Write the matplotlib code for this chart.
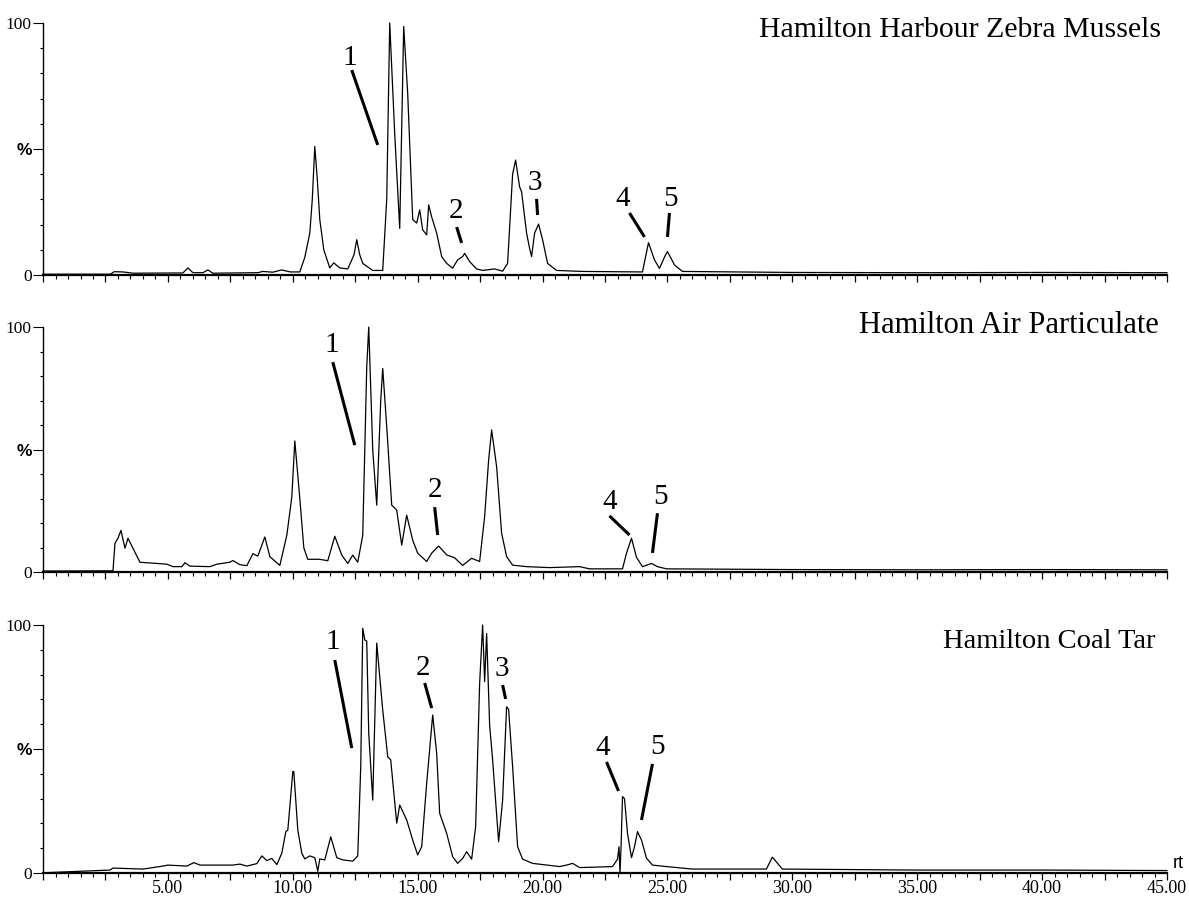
import numpy as np
import matplotlib
matplotlib.use('Agg')
import matplotlib.pyplot as plt

# retention time (min) and relative abundance (%)
mussel_rt = [0.0, 2.7, 2.85, 3.2, 3.6, 5.6, 5.8, 6.0, 6.4, 6.6, 6.8, 8.6, 8.8, 9.2, 9.55, 9.9,
             10.28, 10.48, 10.68, 10.78, 10.88, 10.98, 11.08, 11.24, 11.48, 11.64, 11.88, 12.2,
             12.45, 12.56, 12.68, 12.8, 13.2, 13.6, 13.76, 13.88, 14.08, 14.28, 14.44, 14.6,
             14.8, 14.96, 15.08, 15.2, 15.36, 15.44, 15.56, 15.76, 15.96, 16.16, 16.4, 16.6,
             16.8, 16.88, 17.08, 17.36, 17.6, 18.08, 18.4, 18.6, 18.8, 18.92, 19.08, 19.16,
             19.36, 19.48, 19.56, 19.68, 19.84, 20.0, 20.2, 20.56, 21.6, 24.0, 24.14, 24.24,
             24.48, 24.68, 24.9, 25.0, 25.28, 25.6, 30.0, 35.0, 40.0, 45.0]
mussel_pct = [0.3, 0.3, 1.3, 1.2, 0.7, 0.8, 2.8, 0.9, 0.9, 2.0, 0.7, 0.9, 1.4, 1.1, 2.0, 1.2,
              1.2, 7.0, 16.6, 30.0, 51.0, 38.0, 22.0, 10.0, 2.8, 4.8, 2.8, 2.4,
              8.0, 14.0, 8.0, 4.6, 1.8, 1.8, 30.0, 100.0, 56.0, 18.5, 98.6, 72.0,
              22.0, 20.6, 25.8, 17.9, 15.9, 27.8, 23.0, 16.6, 7.3, 4.6, 2.7, 6.0,
              7.3, 8.6, 5.3, 2.4, 1.8, 2.4, 1.5, 4.6, 40.0, 45.6, 35.0, 33.0,
              16.6, 10.6, 7.3, 16.6, 20.2, 14.0, 4.6, 1.8, 1.4, 1.2, 8.0, 12.8,
              6.0, 2.6, 7.5, 9.3, 4.0, 1.4, 1.0, 0.9, 1.0, 0.9]

air_rt = [0.0, 2.8, 2.88, 3.0, 3.12, 3.28, 3.4, 3.6, 3.88, 4.96, 5.2, 5.56, 5.68, 5.88, 6.68,
          6.96, 7.48, 7.6, 7.88, 8.16, 8.4, 8.6, 8.88, 9.08, 9.48, 9.76, 9.96, 10.08, 10.28,
          10.44, 10.6, 11.08, 11.4, 11.68, 11.96, 12.2, 12.4, 12.6, 12.8, 12.96, 13.04, 13.2,
          13.36, 13.52, 13.6, 13.76, 13.96, 14.16, 14.36, 14.56, 14.8, 15.0, 15.36, 15.56,
          15.84, 16.16, 16.48, 16.8, 17.16, 17.48, 17.68, 17.84, 17.96, 18.16, 18.36, 18.56,
          18.8, 19.36, 20.28, 21.48, 21.88, 23.2, 23.36, 23.56, 23.76, 24.0, 24.36, 24.6,
          24.96, 30.0, 35.0, 40.0, 45.0]
air_pct = [0.4, 0.5, 11.7, 13.8, 17.0, 9.7, 13.8, 9.7, 4.0, 3.2, 2.2, 2.2, 3.8, 2.4, 2.2,
           3.2, 4.0, 4.7, 3.0, 2.6, 7.5, 6.5, 14.3, 6.3, 2.7, 15.0, 30.6, 53.5, 30.0,
           9.9, 5.2, 5.2, 4.6, 14.6, 6.9, 3.5, 6.9, 4.0, 15.0, 83.8, 100.0, 49.8,
           27.3, 70.0, 83.1, 59.3, 27.3, 25.3, 11.0, 23.2, 13.0, 7.7, 4.3, 7.7,
           10.6, 7.0, 5.8, 2.7, 5.6, 4.3, 22.6, 45.7, 58.0, 43.0, 15.8, 6.3,
           2.8, 2.2, 1.8, 2.2, 1.3, 1.3, 7.7, 13.8, 6.0, 2.2, 3.5, 2.2,
           1.3, 1.0, 0.9, 1.0, 0.9]

tar_rt = [0.0, 2.68, 2.8, 4.0, 4.8, 5.0, 5.76, 6.04, 6.28, 7.6, 7.88, 8.16, 8.56, 8.76, 8.96,
          9.16, 9.36, 9.56, 9.72, 9.8, 10.0, 10.04, 10.2, 10.36, 10.48, 10.68, 10.88, 11.0,
          11.08, 11.28, 11.52, 11.76, 12.0, 12.4, 12.6, 12.72, 12.8, 12.88, 12.96, 13.04,
          13.2, 13.36, 13.6, 13.8, 13.92, 14.16, 14.28, 14.56, 14.8, 15.0, 15.16, 15.36,
          15.6, 15.76, 15.88, 16.16, 16.4, 16.6, 16.8, 16.96, 17.16, 17.32, 17.48, 17.6,
          17.68, 17.76, 17.88, 18.0, 18.24, 18.4, 18.56, 18.64, 18.8, 19.0, 19.2, 19.6,
          20.68, 20.96, 21.2, 21.48, 22.8, 23.0, 23.06, 23.1, 23.14, 23.2, 23.28, 23.4,
          23.56, 23.68, 23.8, 23.96, 24.16, 24.4, 24.96, 26.0, 28.96, 29.2, 29.6, 35.0,
          40.0, 45.0]
tar_pct = [0.1, 1.2, 2.0, 1.6, 2.8, 3.2, 2.8, 4.2, 3.2, 3.2, 3.6, 2.8, 3.8, 6.9, 5.0,
           5.9, 3.4, 8.0, 16.7, 17.3, 40.9, 40.9, 17.3, 8.0, 5.7, 6.9, 6.2, 0.7,
           5.7, 5.3, 14.6, 6.2, 5.3, 4.8, 6.9, 42.9, 98.7, 94.0, 93.5, 56.4,
           29.4, 92.7, 65.7, 46.9, 45.6, 20.1, 27.4, 21.4, 13.3, 7.3, 10.6, 36.2,
           63.7, 48.3, 24.1, 16.0, 6.6, 3.9, 5.9, 8.6, 5.6, 18.7, 76.5, 100.0,
           77.2, 96.6, 59.7, 45.6, 12.6, 29.4, 67.0, 66.0, 42.9, 10.6, 5.6, 3.9,
           2.6, 3.2, 3.9, 2.2, 2.6, 5.6, 10.6, 0.0, 10.0, 30.8, 30.0, 16.0,
           6.2, 10.6, 16.7, 13.3, 6.0, 3.2, 2.6, 1.6, 1.6, 6.4, 1.6, 1.2,
           1.2, 1.0]

titles = ['Hamilton Harbour Zebra Mussels', 'Hamilton Air Particulate', 'Hamilton Coal Tar']

# peak labels: (text, label x, label y, line x0, y0, x1, y1)
mussel_peaks = [('1', 12.28, 86.0, 12.36, 81.3, 13.40, 51.6),
                ('2', 16.52, 25.4, 16.56, 19.0, 16.76, 12.7),
                ('3', 19.68, 36.5, 19.76, 30.2, 19.80, 23.8),
                ('4', 23.20, 30.2, 23.48, 24.6, 24.08, 15.1),
                ('5', 25.12, 30.2, 25.08, 24.6, 25.00, 15.1)]
air_peaks = [('1', 11.56, 92.7, 11.60, 85.7, 12.48, 51.8),
             ('2', 15.68, 33.5, 15.68, 26.5, 15.80, 15.1),
             ('4', 22.68, 28.6, 22.68, 22.9, 23.48, 15.1),
             ('5', 24.72, 30.6, 24.60, 24.0, 24.40, 7.8)]
tar_peaks = [('1', 11.60, 93.1, 11.68, 85.9, 12.36, 50.4),
             ('2', 15.20, 82.7, 15.28, 76.6, 15.56, 66.5),
             ('3', 18.36, 82.3, 18.40, 75.8, 18.52, 70.2),
             ('4', 22.40, 50.4, 22.56, 44.8, 23.04, 33.1),
             ('5', 24.60, 50.8, 24.40, 44.0, 23.96, 21.4)]

SERIF = 'Liberation Serif'


def draw_panel(ax, rt, pct, peaks, title, title_xy, title_size, show_xlabels):
    ax.plot(rt, pct, color='black', lw=0.9, clip_on=False)
    ax.set_xlim(0, 45)
    ax.set_ylim(0, 100)
    for side in ['top', 'right']:
        ax.spines[side].set_visible(False)
    ax.spines['bottom'].set_linewidth(1.6)
    ax.spines['left'].set_linewidth(1.0)

    ax.set_yticks([0, 50, 100], labels=['0', '%', '100'])
    ax.set_yticks(np.arange(0, 101, 10), minor=True)
    ax.tick_params(axis='y', which='major', length=7, width=0.8, pad=1, labelsize=12.5)
    ax.tick_params(axis='y', which='minor', length=2.5, width=0.8)
    for lab in ax.get_yticklabels():
        lab.set_family(SERIF if lab.get_text() != '%' else 'Liberation Sans')
        if lab.get_text() == '%':
            lab.set_fontweight('bold')

    major = np.arange(0, 45.01, 2.5)
    xlabels = [f'{v:.2f}' if (v % 5 == 0 and v > 0 and show_xlabels) else '' for v in major]
    ax.set_xticks(major, labels=xlabels)
    ax.set_xticks(np.arange(0, 45.01, 0.5), minor=True)
    ax.tick_params(axis='x', which='major', length=5, width=0.9, pad=0, labelsize=13)
    ax.tick_params(axis='x', which='minor', length=3.2, width=0.8)
    for lab in ax.get_xticklabels():
        lab.set_family(SERIF)

    for txt, lx, ly, x0, y0, x1, y1 in peaks:
        ax.text(lx, ly, txt, family=SERIF, fontsize=21, ha='center', va='center')
        ax.plot([x0, x1], [y0, y1], color='black', lw=2.2, solid_capstyle='butt', clip_on=False)

    ax.text(title_xy[0], title_xy[1], title, family=SERIF, fontsize=title_size,
            ha='right', va='baseline')


fig = plt.figure(figsize=(11.89, 8.98), dpi=100)
ax1 = fig.add_axes([0.0362, 0.6938, 0.9453, 0.2806])
ax2 = fig.add_axes([0.0362, 0.3630, 0.9453, 0.2728])
ax3 = fig.add_axes([0.0362, 0.0278, 0.9453, 0.2762])

draw_panel(ax1, mussel_rt, mussel_pct, mussel_peaks, titles[0], (44.76, 94.4), 21.5, False)
draw_panel(ax2, air_rt, air_pct, air_peaks, titles[1], (44.68, 97.6), 22, False)
draw_panel(ax3, tar_rt, tar_pct, tar_peaks, titles[2], (44.52, 90.7), 20.5, True)

ax3.text(45.25, 0.5, 'rt', family='Liberation Sans', fontsize=13, ha='left', va='bottom',
         clip_on=False)

fig.savefig('out.png', dpi=100)
